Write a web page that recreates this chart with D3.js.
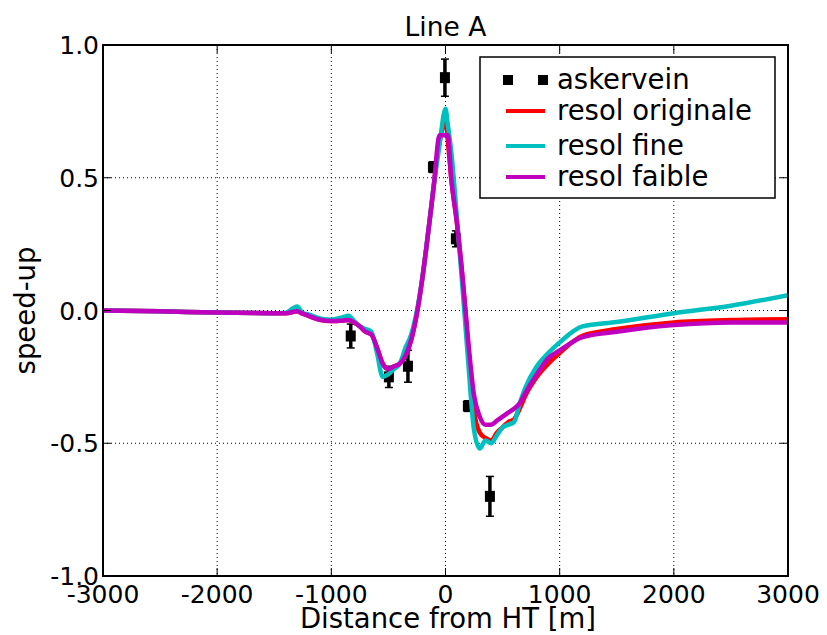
<!DOCTYPE html>
<html>
<head>
<meta charset="utf-8">
<script src="https://cdn.jsdelivr.net/npm/d3@7"></script>
<style>
  body { margin: 0; background: #fff; }
  svg { font-family: "DejaVu Sans", sans-serif; }
</style>
</head>
<body>
<svg id="chart" width="827" height="635"></svg>
<script>
// distance from HT [m], shared by the three model runs
const dist = [-3000, -2500, -2000, -1500, -1400, -1300, -1250, -1200, -1100, -1000, -900, -850, -800, -750, -700,
  -650, -600, -550, -500, -450, -400, -350, -300, -250, -200, -150, -100, -60, -50, 0, 20, 50, 100, 150, 200,
  250, 300, 350, 400, 450, 500, 550, 600, 650, 700, 800, 900, 1000, 1200, 1500, 2000, 2500, 3000];

const resolOriginale = [0, -0.003, -0.008, -0.01, -0.01, -0.003, -0.012, -0.02, -0.035, -0.04, -0.038, -0.036, -0.045, -0.06, -0.08,
  -0.09, -0.14, -0.2, -0.22, -0.21, -0.2, -0.17, -0.11, -0.01, 0.13, 0.3, 0.48, 0.62, 0.64, 0.72, 0.64, 0.5, 0.33, 0.12, -0.14,
  -0.38, -0.46, -0.48, -0.49, -0.46, -0.44, -0.42, -0.41, -0.37, -0.32, -0.25, -0.2, -0.16, -0.095, -0.07, -0.045, -0.036, -0.033];

const resolFine = [0, -0.003, -0.008, -0.01, -0.008, 0.015, -0.01, -0.015, -0.03, -0.035, -0.025, -0.02, -0.04, -0.06, -0.07,
  -0.08, -0.16, -0.25, -0.24, -0.22, -0.2, -0.14, -0.09, 0.0, 0.13, 0.3, 0.48, 0.6, 0.63, 0.76, 0.7, 0.6, 0.35, 0.08, -0.2,
  -0.45, -0.52, -0.49, -0.5, -0.47, -0.44, -0.43, -0.42, -0.35, -0.29, -0.21, -0.16, -0.12, -0.06, -0.043, -0.01, 0.018, 0.058];

const resolFaible = [0, -0.003, -0.008, -0.01, -0.01, -0.003, -0.012, -0.02, -0.035, -0.04, -0.038, -0.036, -0.045, -0.06, -0.08,
  -0.09, -0.14, -0.2, -0.22, -0.21, -0.2, -0.17, -0.11, -0.01, 0.13, 0.3, 0.48, 0.65, 0.66, 0.66, 0.66, 0.5, 0.33, 0.12, -0.12,
  -0.32, -0.4, -0.43, -0.43, -0.415, -0.4, -0.385, -0.37, -0.35, -0.31, -0.24, -0.18, -0.15, -0.1, -0.08, -0.055, -0.045, -0.045];

// askervein field measurements
const obsX = [-830, -496, -329, -110, -5, 91, 196, 389];
const obsY = [-0.096, -0.25, -0.21, 0.54, 0.877, 0.27, -0.36, -0.70];
const obsErr = [0.045, 0.04, 0.06, 0.02, 0.07, 0.03, 0.02, 0.075];

const xTicks = [-3000, -2000, -1000, 0, 1000, 2000, 3000];
const yTicks = [-1.0, -0.5, 0.0, 0.5, 1.0];

const series = [
  { name: "resol originale", values: resolOriginale, color: "#ff0000" },
  { name: "resol fine", values: resolFine, color: "#00bfbf" },
  { name: "resol faible", values: resolFaible, color: "#bf00bf" }
];

const svg = d3.select("#chart");
const mLeft = 103, mRight = 788, mTop = 45, mBottom = 576;
const fs = 25, fsLabel = 27.5;

const x = d3.scaleLinear().domain([-3000, 3000]).range([mLeft, mRight]);
const y = d3.scaleLinear().domain([-1, 1]).range([mBottom, mTop]);

// grid
svg.append("g").selectAll("line").data(xTicks.slice(1, -1)).enter().append("line")
  .attr("x1", d => x(d)).attr("x2", d => x(d)).attr("y1", mTop).attr("y2", mBottom)
  .attr("stroke", "#000").attr("stroke-width", 1).attr("stroke-dasharray", "1,3");
svg.append("g").selectAll("line").data(yTicks.slice(1, -1)).enter().append("line")
  .attr("x1", mLeft).attr("x2", mRight).attr("y1", d => y(d)).attr("y2", d => y(d))
  .attr("stroke", "#000").attr("stroke-width", 1).attr("stroke-dasharray", "1,3");

const plot = svg.append("g");
plot.append("clipPath").attr("id", "clip").append("rect")
  .attr("x", mLeft).attr("y", mTop).attr("width", mRight - mLeft).attr("height", mBottom - mTop);
const inner = plot.append("g").attr("clip-path", "url(#clip)");

// observations with error bars
const obs = obsX.map((d, i) => ({ x: d, y: obsY[i], e: obsErr[i] }));
const og = inner.append("g");
og.selectAll("line").data(obs).enter().append("line")
  .attr("x1", d => x(d.x)).attr("x2", d => x(d.x))
  .attr("y1", d => y(d.y - d.e)).attr("y2", d => y(d.y + d.e))
  .attr("stroke", "#000").attr("stroke-width", 3.5);
obs.forEach(d => {
  [d.y - d.e, d.y + d.e].forEach(v => {
    og.append("line")
      .attr("x1", x(d.x) - 4).attr("x2", x(d.x) + 4).attr("y1", y(v)).attr("y2", y(v))
      .attr("stroke", "#000").attr("stroke-width", 1.5);
  });
});
og.selectAll("rect").data(obs).enter().append("rect")
  .attr("x", d => x(d.x) - 5).attr("y", d => y(d.y) - 5.5)
  .attr("width", 10).attr("height", 11).attr("fill", "#000");

// model lines
const line = d3.line().x((d, i) => x(dist[i])).y(d => y(d)).curve(d3.curveMonotoneX);
series.forEach(s => {
  inner.append("path").datum(s.values)
    .attr("d", line).attr("fill", "none")
    .attr("stroke", s.color).attr("stroke-width", 4.5).attr("stroke-linejoin", "round");
});

// frame
svg.append("rect").attr("x", mLeft).attr("y", mTop).attr("width", mRight - mLeft).attr("height", mBottom - mTop)
  .attr("fill", "none").attr("stroke", "#000").attr("stroke-width", 2);

// inward ticks on all sides
const tl = 8;
xTicks.forEach(t => {
  svg.append("line").attr("x1", x(t)).attr("x2", x(t)).attr("y1", mBottom).attr("y2", mBottom - tl).attr("stroke", "#000");
  svg.append("line").attr("x1", x(t)).attr("x2", x(t)).attr("y1", mTop).attr("y2", mTop + tl).attr("stroke", "#000");
});
yTicks.forEach(t => {
  svg.append("line").attr("x1", mLeft).attr("x2", mLeft + tl).attr("y1", y(t)).attr("y2", y(t)).attr("stroke", "#000");
  svg.append("line").attr("x1", mRight).attr("x2", mRight - tl).attr("y1", y(t)).attr("y2", y(t)).attr("stroke", "#000");
});

// tick labels
svg.append("g").selectAll("text").data(xTicks).enter().append("text")
  .attr("x", d => x(d)).attr("y", mBottom + 27).attr("text-anchor", "middle")
  .attr("font-size", fs).text(d => d3.format("d")(d).replace("−", "-"));
svg.append("g").selectAll("text").data(yTicks).enter().append("text")
  .attr("x", mLeft - 4).attr("y", d => y(d) + 9).attr("text-anchor", "end")
  .attr("font-size", fs).text(d => d3.format(".1f")(d).replace("−", "-"));

// titles
svg.append("text").attr("x", (mLeft + mRight) / 2).attr("y", 36).attr("text-anchor", "middle")
  .attr("font-size", 26.5).text("Line A");
svg.append("text").attr("x", 448).attr("y", 628).attr("text-anchor", "middle")
  .attr("font-size", fsLabel).text("Distance from HT [m]");
svg.append("text").attr("transform", "translate(35," + ((mTop + mBottom) / 2) + ") rotate(-90)")
  .attr("text-anchor", "middle").attr("font-size", fsLabel).text("speed-up");

// legend
const lg = svg.append("g");
lg.append("rect").attr("x", 480).attr("y", 57).attr("width", 295).attr("height", 141)
  .attr("fill", "#fff").attr("stroke", "#000").attr("stroke-width", 1.5);
[508, 543].forEach(cx => {
  lg.append("rect").attr("x", cx - 5).attr("y", 75).attr("width", 10).attr("height", 10).attr("fill", "#000");
});
lg.append("text").attr("x", 557).attr("y", 89).attr("font-size", fsLabel).text("askervein");
const legY = [110, 145, 176];
series.forEach((s, i) => {
  lg.append("line").attr("x1", 506).attr("x2", 545).attr("y1", legY[i] + 1).attr("y2", legY[i] + 1)
    .attr("stroke", s.color).attr("stroke-width", 4);
  lg.append("text").attr("x", 557).attr("y", legY[i] + 10).attr("font-size", fsLabel).text(s.name);
});
</script>
</body>
</html>
